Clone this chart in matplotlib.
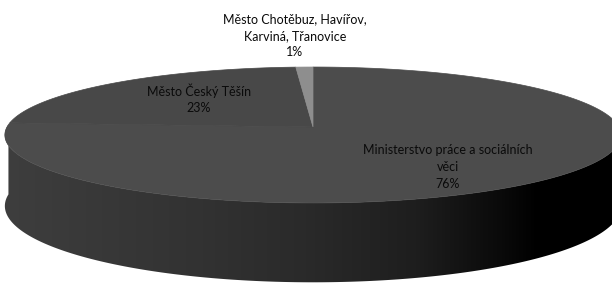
import numpy as np
import matplotlib
matplotlib.use("Agg")
import matplotlib.pyplot as plt
from matplotlib.patches import Polygon
from matplotlib.colors import LinearSegmentedColormap

# ---- data ----
labels = ["Ministerstvo práce a sociálních\nvěci",
          "Město Český Těšín",
          "Město Chotěbuz, Havířov,\nKarviná, Třanovice"]
values = [76, 23, 1]
pct_labels = ["76%", "23%", "1%"]

top_colors = ["#4c4c4c", "#484848", "#8e8e8e"]
label_pos = [(448, 167), (199, 99), (295, 36)]

# ---- geometry of the 3D pie (pixel coords) ----
W, H = 612, 283
CX, CY = 313.0, 127.0       # apex of the pie (projected centre)
A0 = 306.0                  # horizontal radius
B = -52.1                   # vertical factor
C = 0.1176                  # perspective factor
D0 = 70.0                   # thickness


def proj(theta_deg, drop=0.0):
    t = np.radians(theta_deg)
    X = np.sin(t)
    Y = np.cos(t)
    den = 1 + C * Y
    x = CX + A0 * X / den
    y = (CY + B * Y) / den + drop / den
    return x, y


fig = plt.figure(figsize=(W / 100, H / 100), dpi=100)
ax = fig.add_axes([0, 0, 1, 1])
ax.set_xlim(0, W)
ax.set_ylim(H, 0)
ax.axis("off")

# ---- side wall ----
th = np.linspace(88, 272, 400)
xt, yt = proj(th)
xb, yb = proj(th[::-1], D0)
side = np.column_stack([np.concatenate([xt, xb]), np.concatenate([yt, yb])])
side_poly = Polygon(side, closed=True, facecolor="none", edgecolor="none")
ax.add_patch(side_poly)
grad_cmap = LinearSegmentedColormap.from_list(
    "side",
    [(0.0, "#3e3e3e"), (0.33, "#323232"), (0.5, "#2a2a2a"),
     (0.68, "#1e1e1e"), (0.82, "#0a0a0a"), (0.88, "#000000"), (1.0, "#000000")])
grad = np.linspace(0, 1, 512).reshape(1, -1)
im = ax.imshow(grad, cmap=grad_cmap, extent=[0, W, H, 0], aspect="auto",
               interpolation="bilinear", zorder=1)
im.set_clip_path(side_poly)

# ---- top face wedges ----
total = sum(values)
start = 0.0
for v, col in zip(values, top_colors):
    end = start + 360.0 * v / total
    th = np.linspace(start, end, max(int(abs(end - start) * 2), 4))
    x, y = proj(th)
    pts = np.column_stack([np.concatenate([[CX], x]), np.concatenate([[CY], y])])
    ax.add_patch(Polygon(pts, closed=True, facecolor=col, edgecolor=col,
                         linewidth=0.5, zorder=2))
    start = end

# ---- labels ----
for lab, pct, (lx, ly) in zip(labels, pct_labels, label_pos):
    ax.text(lx, ly, lab + "\n" + pct, ha="center", va="center",
            fontsize=9, family="Lato", color="#0a0a0a",
            linespacing=1.45, zorder=5)

fig.savefig("out.png", dpi=100, facecolor="white")
